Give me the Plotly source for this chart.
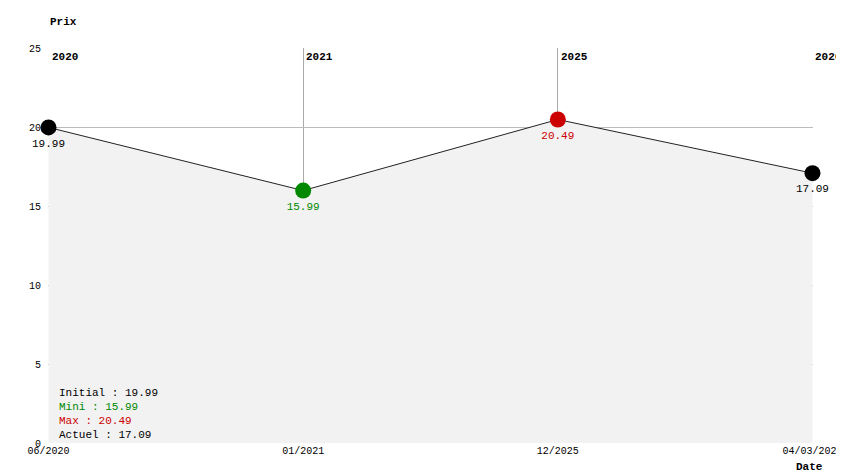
import plotly.graph_objects as go

dates = ["06/2020", "01/2021", "12/2025", "04/03/2026"]
years = ["2020", "2021", "2025", "2026"]
prices = [19.99, 15.99, 20.49, 17.09]
colors = ["#000000", "#008800", "#cc0000", "#000000"]
summary = [("Initial : 19.99", "#000000"), ("Mini : 15.99", "#008800"),
           ("Max : 20.49", "#cc0000"), ("Actuel : 17.09", "#000000")]

F = "Liberation Mono, Courier New, monospace"
x = list(range(len(dates)))
fig = go.Figure()
fig.add_trace(go.Scatter(x=x, y=prices, mode="lines", fill="tozeroy",
                         fillcolor="#f2f2f2", line=dict(color="#222", width=1),
                         hoverinfo="skip", cliponaxis=False))
fig.add_trace(go.Scatter(x=x, y=prices, mode="markers+text", cliponaxis=False,
                         marker=dict(size=16, color=colors),
                         text=[f"{p:.2f}" for p in prices], textposition="bottom center",
                         textfont=dict(family=F, size=11, color=colors)))
for i, yr in enumerate(years):
    fig.add_annotation(x=i, y=25, text=f"<b>{yr}</b>", xanchor="left", yanchor="top",
                       showarrow=False, xshift=1, yshift=-1,
                       font=dict(family=F, size=11, color="#000"))
for k, (t, c) in enumerate(summary):
    fig.add_annotation(x=0, y=0, xref="x", yref="y", text=t, showarrow=False,
                       xanchor="left", yanchor="bottom", xshift=8, yshift=0 + 14 * (3 - k),
                       font=dict(family=F, size=11, color=c))
fig.add_annotation(x=0, y=1, xref="paper", yref="paper", text="<b>Prix</b>", showarrow=False,
                   xanchor="left", yanchor="bottom", yshift=18, font=dict(family=F, size=11))
fig.add_annotation(x=1, y=0, xref="paper", yref="paper", text="<b>Date</b>", showarrow=False,
                   xanchor="center", yanchor="top", yshift=-16, xshift=-4, font=dict(family=F, size=11))
fig.update_layout(
    width=844, height=474, margin=dict(l=40, r=39, t=40, b=39),
    paper_bgcolor="white", plot_bgcolor="white", showlegend=False,
    font=dict(family=F, size=10, color="#000"),
    xaxis=dict(tickvals=x, ticktext=dates, range=[-0.002, 3.002], showgrid=True, automargin=False,
               gridcolor="#aaaaaa", zeroline=False, showline=False, ticks=""),
    yaxis=dict(range=[0, 25.02], dtick=5, showgrid=True, gridcolor="#bbbbbb", automargin=False,
               zeroline=False, ticks="", ticklabelstandoff=6),
)
fig.write_html("out.html")
